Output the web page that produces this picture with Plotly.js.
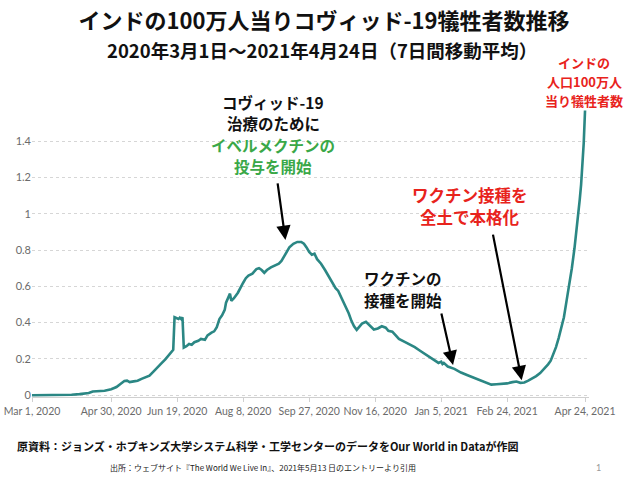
<!DOCTYPE html>
<html>
<head>
<meta charset="utf-8">
<script src="https://cdn.plot.ly/plotly-3.0.1.min.js"></script>
<style>html,body{margin:0;padding:0;background:#fff;}#chart{width:640px;height:479px;}</style>
</head>
<body>
<div id="chart"></div>
<script>
// Dates (7-day rolling average points)
const dates = [
 '2020-03-01','2020-03-11','2020-03-21','2020-03-31','2020-04-06','2020-04-10','2020-04-13','2020-04-16','2020-04-20','2020-04-25',
 '2020-04-30','2020-05-04','2020-05-07','2020-05-10','2020-05-12','2020-05-14','2020-05-17','2020-05-20','2020-05-23','2020-05-26',
 '2020-05-29','2020-06-01','2020-06-04','2020-06-07','2020-06-10','2020-06-13','2020-06-15','2020-06-16','2020-06-17','2020-06-19',
 '2020-06-20','2020-06-21','2020-06-22','2020-06-23','2020-06-24','2020-06-26','2020-06-28','2020-06-30','2020-07-02','2020-07-05',
 '2020-07-07','2020-07-10','2020-07-12','2020-07-15','2020-07-17','2020-07-19','2020-07-21','2020-07-23','2020-07-25','2020-07-26',
 '2020-07-28','2020-07-29','2020-07-30','2020-08-01','2020-08-04','2020-08-06','2020-08-08','2020-08-10','2020-08-12','2020-08-15',
 '2020-08-18','2020-08-20','2020-08-22','2020-08-24','2020-08-26','2020-08-29','2020-09-01','2020-09-04','2020-09-06','2020-09-08',
 '2020-09-10','2020-09-12','2020-09-15','2020-09-18','2020-09-21','2020-09-23','2020-09-25','2020-09-27','2020-09-29','2020-10-01',
 '2020-10-03','2020-10-06','2020-10-09','2020-10-11','2020-10-13','2020-10-15','2020-10-17','2020-10-19','2020-10-21','2020-10-23',
 '2020-10-25','2020-10-27','2020-10-29','2020-10-31','2020-11-02','2020-11-04','2020-11-06','2020-11-09','2020-11-11','2020-11-13',
 '2020-11-15','2020-11-18','2020-11-21','2020-11-24','2020-11-26','2020-11-29','2020-12-01','2020-12-04','2020-12-08','2020-12-12',
 '2020-12-16','2020-12-20','2020-12-24','2020-12-28','2020-12-31','2021-01-03','2021-01-05','2021-01-06','2021-01-07','2021-01-10',
 '2021-01-15','2021-01-20','2021-01-25','2021-01-30','2021-02-04','2021-02-09','2021-02-12','2021-02-16','2021-02-20','2021-02-24',
 '2021-02-28','2021-03-03','2021-03-06','2021-03-09','2021-03-12','2021-03-15','2021-03-18','2021-03-21','2021-03-24','2021-03-27',
 '2021-03-29','2021-03-31','2021-04-02','2021-04-04','2021-04-06','2021-04-08','2021-04-10','2021-04-12','2021-04-14','2021-04-16',
 '2021-04-18','2021-04-20','2021-04-21','2021-04-22','2021-04-23','2021-04-24'
];
// Deaths per million people (7-day average)
const deathsPerMillion = [
 0.000,0.000,0.001,0.002,0.006,0.008,0.012,0.020,0.022,0.024,
 0.033,0.045,0.062,0.078,0.080,0.072,0.076,0.080,0.090,0.098,
 0.108,0.130,0.155,0.175,0.198,0.225,0.238,0.250,0.430,0.425,
 0.420,0.428,0.420,0.430,0.262,0.270,0.282,0.278,0.292,0.300,
 0.310,0.305,0.330,0.345,0.352,0.375,0.420,0.440,0.470,0.510,
 0.545,0.560,0.520,0.535,0.565,0.595,0.620,0.645,0.660,0.670,
 0.695,0.700,0.690,0.675,0.690,0.705,0.715,0.725,0.740,0.765,
 0.795,0.815,0.835,0.845,0.845,0.835,0.815,0.790,0.775,0.780,
 0.750,0.725,0.690,0.665,0.640,0.610,0.590,0.575,0.545,0.515,
 0.485,0.450,0.410,0.380,0.360,0.375,0.395,0.405,0.390,0.375,
 0.362,0.368,0.380,0.372,0.355,0.350,0.335,0.310,0.295,0.280,
 0.265,0.245,0.225,0.205,0.190,0.178,0.185,0.172,0.178,0.158,
 0.145,0.125,0.110,0.095,0.082,0.065,0.058,0.060,0.062,0.065,
 0.072,0.075,0.068,0.070,0.080,0.092,0.105,0.122,0.145,0.170,
 0.190,0.225,0.265,0.315,0.370,0.430,0.520,0.600,0.700,0.810,
 0.930,1.080,1.160,1.250,1.390,1.570
];
const tickDates = ['2020-03-01','2020-04-30','2020-06-19','2020-08-08','2020-09-27','2020-11-16','2021-01-05','2021-02-24','2021-04-24'];
const tickLabels = ['Mar 1, 2020','Apr 30, 2020','Jun 19, 2020','Aug 8, 2020','Sep 27, 2020','Nov 16, 2020','Jan 5, 2021','Feb 24, 2021','Apr 24, 2021'];

const titleText = 'インドの100万人当りコヴィッド-19犠牲者数推移';
const subtitleText = '2020年3月1日～2021年4月24日（7日間移動平均）';
const ivermectinLines = ['コヴィッド-19', '治療のために', 'イベルメクチンの', '投与を開始'];
const ivermectinColors = ['#111111', '#111111', '#3aa848', '#3aa848'];
const vaccineStartLines = ['ワクチンの', '接種を開始'];
const vaccineFullLines = ['ワクチン接種を', '全土で本格化'];
const seriesLabelLines = ['インドの', '人口100万人', '当り犠牲者数'];
const sourceText = '原資料：ジョンズ・ホプキンズ大学システム科学・工学センターのデータをOur World in Dataが作図';
const citeText = '出所：ウェブサイト『The World We Live In』、2021年5月13 日のエントリーより引用';

const JP = '"Noto Sans CJK JP", "Noto Sans", sans-serif';

// pixel -> paper helpers for text placement
const PL = 32, PW = 557, PB = 396.8, PH = 291.4;
const px = v => (v - PL) / PW;
const py = v => (PB - v) / PH;

const trace = {
  x: dates, y: deathsPerMillion, type: 'scatter', mode: 'lines',
  line: {color: '#2b8784', width: 2.6}, hoverinfo: 'skip'
};

const annotations = [];
function textLine(text, xPix, yPix, size, color, bold, anchor) {
  annotations.push({xref: 'paper', yref: 'paper', x: px(xPix), y: py(yPix),
    xanchor: anchor || 'center', yanchor: 'middle',
    text: bold ? '<b>' + text + '</b>' : text, showarrow: false,
    font: {family: JP, size: size, color: color}});
}
function arrow(xd, yd, ax, ay) {
  annotations.push({x: xd, y: yd, xref: 'x', yref: 'y', text: '', showarrow: true,
    ax: ax, ay: ay, arrowhead: 2, arrowsize: 1.3, arrowwidth: 2.2, arrowcolor: '#000'});
}

textLine(subtitleText, 322, 51, 18.5, '#111', true);
ivermectinLines.forEach((t, i) => textLine(t, 273, 102 + i * 21.5, 15.5, ivermectinColors[i], true));
arrow('2020-09-09', 0.856, -8, -58);
vaccineStartLines.forEach((t, i) => textLine(t, 403, 278 + i * 22, 15.5, '#111', true));
arrow('2021-01-14', 0.166, -12, -53);
vaccineFullLines.forEach((t, i) => textLine(t, 470, 195 + i * 22, 16.5, '#e8231c', true));
arrow('2021-03-07', 0.083, -29, -147);
seriesLabelLines.forEach((t, i) => textLine(t, 584, 63 + i * 19, 13, '#e8231c', true));
textLine(sourceText, 15, 446, 11, '#111', true, 'left');
textLine(citeText, 108, 467, 8, '#222', false, 'left');
annotations.push({xref: 'paper', yref: 'paper', x: px(598), y: py(467), xanchor: 'center', yanchor: 'middle',
  text: '1', showarrow: false, font: {family: 'Lato, sans-serif', size: 9, color: '#999'}});

const layout = {
  width: 640, height: 479,
  margin: {l: 32, r: 51, t: 105, b: 82},
  paper_bgcolor: '#ffffff', plot_bgcolor: '#ffffff',
  showlegend: false,
  title: {
    text: '<b>' + titleText + '</b>',
    font: {family: JP, size: 22, color: '#111'},
    x: 324/640, xanchor: 'center', xref: 'container',
    y: 1 - 21/479, yanchor: 'middle', yref: 'container'
  },
  xaxis: {
    type: 'date',
    range: ['2020-03-01', '2021-04-27'],
    tickvals: tickDates, ticktext: tickLabels, tickangle: 0,
    tickfont: {family: 'Lato, sans-serif', size: 10.5, color: '#6b6b6b'},
    showgrid: false, zeroline: false,
    showline: true, linecolor: '#d0d0d0', linewidth: 1,
    ticks: 'outside', ticklen: 4, tickcolor: '#d0d0d0'
  },
  yaxis: {
    range: [-0.01, 1.6],
    tickvals: [0, 0.2, 0.4, 0.6, 0.8, 1, 1.2, 1.4],
    tickfont: {family: 'Lato, sans-serif', size: 11, color: '#6b6b6b'},
    showgrid: true, gridcolor: '#d6d6d6', griddash: 'dot', gridwidth: 1,
    zeroline: false, showline: false, ticks: ''
  },
  annotations: annotations
};

Plotly.newPlot('chart', [trace], layout, {displayModeBar: false, staticPlot: true});
</script>
</body>
</html>
